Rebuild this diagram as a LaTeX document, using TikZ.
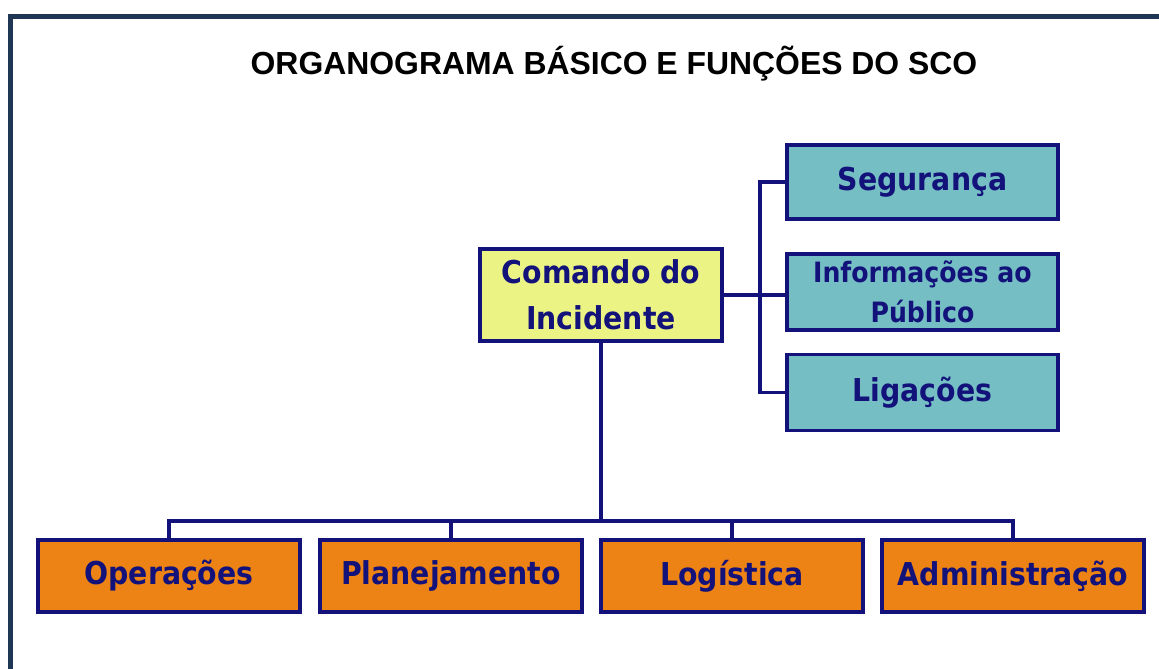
\documentclass[tikz,border=0pt]{standalone}
\usepackage{fontspec}
\usepackage{xcolor}
\usepackage{tikz}
\usetikzlibrary{positioning,calc}
\setmainfont{Liberation Sans}
\newfontfamily\boxfont{DejaVu Sans Condensed}
\definecolor{framenavy}{RGB}{31, 55, 85}
\definecolor{boxnavy}{RGB}{18, 18, 122}
\definecolor{cmdyellow}{RGB}{236, 243, 133}
\definecolor{staffteal}{RGB}{116, 190, 196}
\definecolor{sectorange}{RGB}{236, 131, 20}

\begin{document}
\begin{tikzpicture}[x=1pt, y=-1pt,
    unit/.style={rectangle, draw=boxnavy, line width=3.4pt, text=boxnavy, align=center, inner sep=0pt,
                 font=\boxfont\bfseries\fontsize{31.5}{46}\selectfont},
    command/.style={unit, fill=cmdyellow, minimum width=242pt, minimum height=92pt},
    staff/.style={unit, fill=staffteal, minimum width=271pt, minimum height=76pt},
    section/.style={unit, fill=sectorange, minimum width=262pt, minimum height=72pt},
    link/.style={draw=boxnavy, line width=3.2pt}
]
\useasboundingbox (0,0) rectangle (1159,669);
\clip (0,0) rectangle (1159,669);
\fill[white] (0,0) rectangle (1159,669);
\draw[framenavy, line width=5pt] (10,700) -- (10,17) -- (1200,17);
\node[font=\bfseries\fontsize{31.9}{38}\selectfont] (title) at (614,64) {ORGANOGRAMA BÁSICO E FUNÇÕES DO SCO};
\node[command] (cmd) at (601,295) {Comando do\\Incidente};
\node[staff, minimum height=74pt] (seg) at (922.5,182) {Segurança};
\node[staff, font=\boxfont\bfseries\fontsize{28}{40}\selectfont] (info) at (922.5,292) {Informações ao\\Público};
\node[staff] (lig) at (922.5,392.5) {Ligações};
\node[section] (ops)  at (169,576)  {Operações};
\node[section] (plan) at (451,576)  {Planejamento};
\node[section] (logi) at (732,576)  {Logística};
\node[section] (adm)  at (1013,576) {Administração};
\coordinate (spine) at (760,295);
\coordinate (bus) at (601,521);
\draw[link] (cmd.east) -- (cmd.east -| info.west);
\draw[link] (seg.west) -| (spine) |- (lig.west);
\draw[link] (cmd.south) -- (bus);
\draw[link] (ops.north) |- (bus) -| (adm.north);
\draw[link] (plan.north) -- (plan.north |- bus);
\draw[link] (logi.north) -- (logi.north |- bus);
\end{tikzpicture}
\end{document}
